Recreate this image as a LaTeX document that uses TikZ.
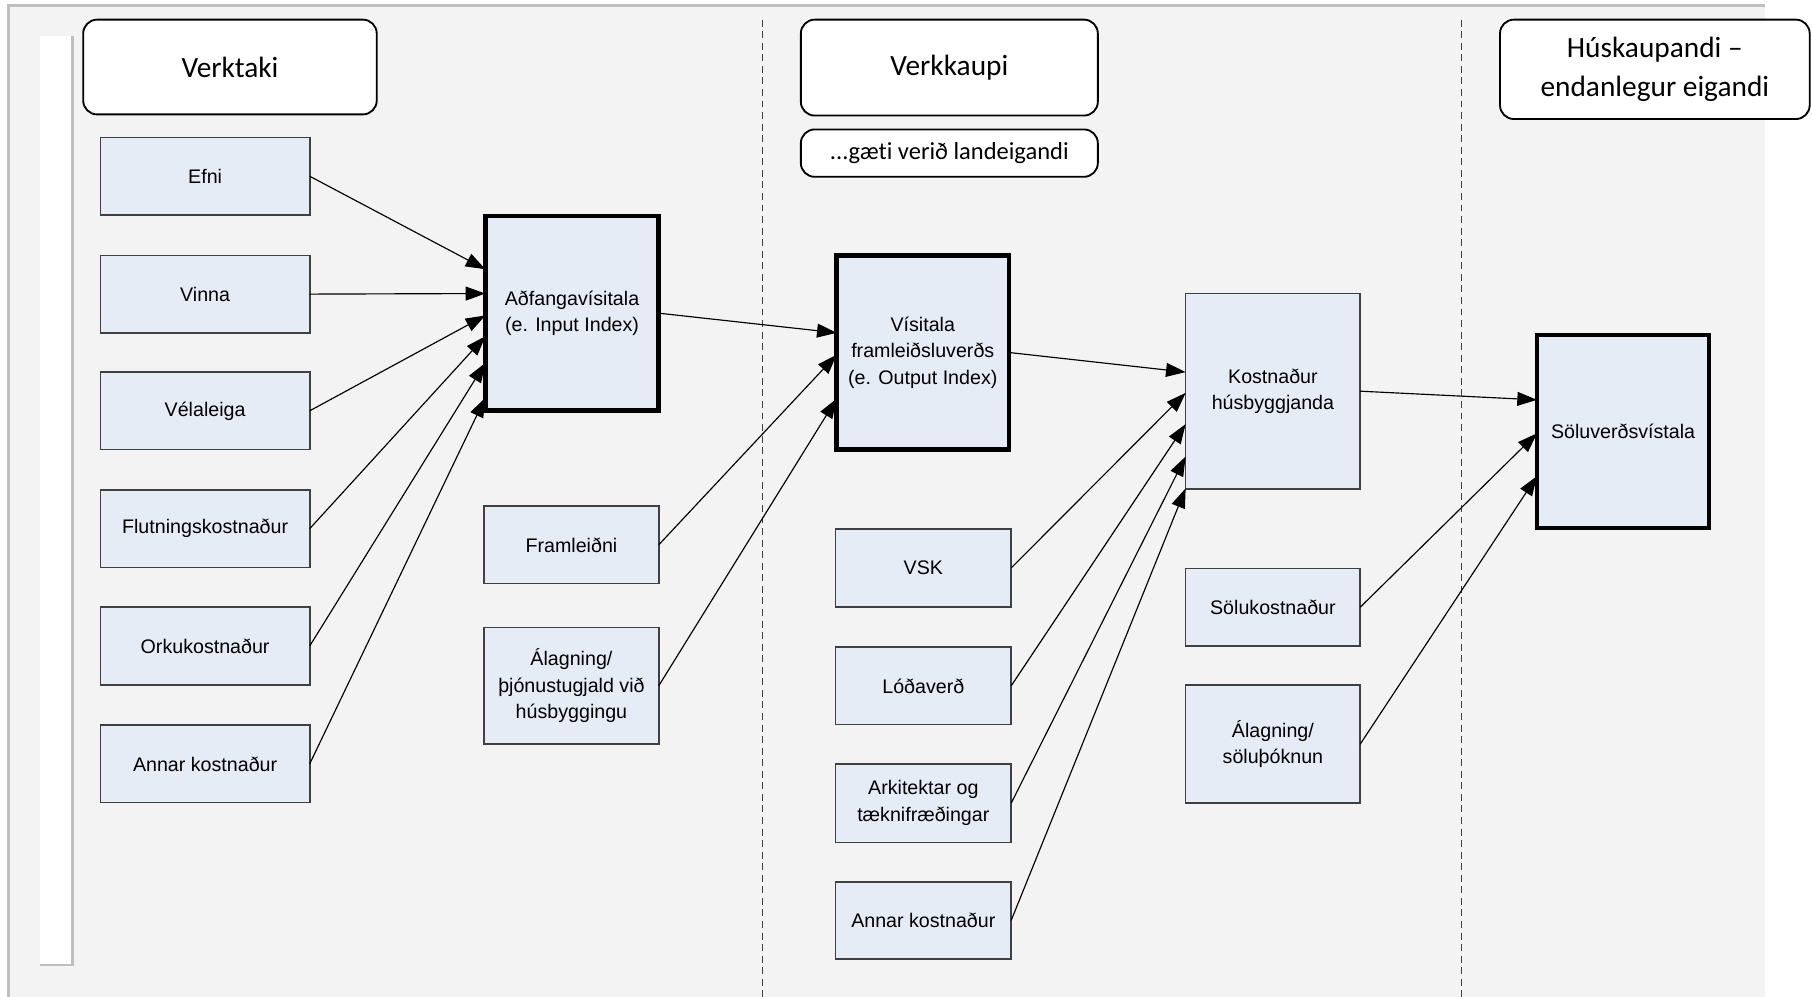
\documentclass[tikz,border=0pt]{standalone}
\usepackage{fontspec}
\setmainfont{Liberation Sans}
\newfontfamily\hdrfont[Ligatures={NoCommon,NoContextual}]{Carlito}
\usetikzlibrary{arrows.meta}
\definecolor{bgcol}{HTML}{F3F3F3}
\definecolor{framecol}{HTML}{BFBFBF}
\definecolor{boxfill}{HTML}{E6ECF6}
\definecolor{boxline}{HTML}{404040}
\begin{document}
\begin{tikzpicture}[x=0.5pt,y=-0.5pt,
  bluebox/.style={draw=boxline, line width=0.7pt, fill=boxfill, inner sep=0pt, outer sep=0pt,
    align=center, font=\fontsize{8.5pt}{11.5pt}\selectfont},
  bigbox/.style={bluebox, draw=black, line width=2pt},
  hdrbox/.style={draw=black, line width=0.8pt, fill=white, rounded corners=6pt, inner sep=0pt, outer sep=0pt,
    align=center, font=\hdrfont\fontsize{12.7pt}{17pt}\selectfont},
  conn/.style={line width=0.5pt, -{Triangle[length=8.5pt,width=6pt]}},
  divider/.style={draw=black!75, line width=0.45pt, dash pattern=on 3pt off 2pt}
]
\useasboundingbox (0,0) rectangle (1568,862);
% background
\fill[bgcol] (7,5) rectangle (1527,875);
\draw[framecol, line width=1.3pt] (7,875) -- (7,5) -- (1527,5);
\fill[white] (35,31) rectangle (63,835);
\draw[framecol, line width=1.2pt] (35,835) -- (63,835) -- (63,31);
% dividers
\draw[divider] (660,17) -- (660,875);
\draw[divider] (1265,17) -- (1265,875);
% headers
\node[hdrbox, minimum width=127pt, minimum height=41pt] (verktaki) at (199,58) {Verktaki};
\node[hdrbox, minimum width=128.5pt, minimum height=41.5pt] (verkkaupi) at (821.5,58.5) {Verkkaupi};
\node[hdrbox, minimum width=128.5pt, minimum height=20.5pt, font=\hdrfont\fontsize{10.6pt}{13pt}\selectfont] (landeig) at (821.5,132.5) {...gæti verið landeigandi};
\node[hdrbox, minimum width=134pt, minimum height=43pt] (huskaup) at (1432,60) {\raisebox{-2pt}{\parbox{120pt}{\centering Húskaupandi –\\endanlegur eigandi}}};
% column 1
\node[bluebox, minimum width=90.5pt, minimum height=33.5pt] (efni) at (177.5,152.5) {Efni};
\node[bluebox, minimum width=90.5pt, minimum height=33.5pt] (vinna) at (177.5,254.5) {Vinna};
\node[bluebox, minimum width=90.5pt, minimum height=33.5pt] (velal) at (177.5,355.5) {Vélaleiga};
\node[bluebox, minimum width=90.5pt, minimum height=33.5pt] (flutn) at (177.5,457.5) {Flutningskostnaður};
\node[bluebox, minimum width=90.5pt, minimum height=33.5pt] (orku) at (177.5,559) {Orkukostnaður};
\node[bluebox, minimum width=90.5pt, minimum height=33.5pt] (annar1) at (177.5,661) {Annar kostnaður};
% column 2
\node[bigbox, minimum width=75pt, minimum height=84pt] (adf) at (495,271) {Aðfangavísitala\\(e. Input Index)};
\node[bluebox, minimum width=75.5pt, minimum height=33.5pt] (framl) at (494.5,471.5) {Framleiðni};
\node[bluebox, minimum width=75.5pt, minimum height=50.5pt] (alag1) at (494.5,593.5) {Álagning/\\þjónustugjald við\\húsbyggingu};
% column 3
\node[bigbox, minimum width=74.5pt, minimum height=84pt] (vis) at (798.5,305) {Vísitala\\framleiðsluverðs\\(e. Output Index)};
\node[bluebox, minimum width=76pt, minimum height=33.5pt] (vsk) at (799,491.5) {VSK};
\node[bluebox, minimum width=76pt, minimum height=33.5pt] (lod) at (799,593.5) {Lóðaverð};
\node[bluebox, minimum width=76pt, minimum height=34pt] (ark) at (799,695) {Arkitektar og\\tæknifræðingar};
\node[bluebox, minimum width=76pt, minimum height=33.5pt] (annar2) at (799,796.5) {Annar kostnaður};
% column 4
\node[bluebox, minimum width=75.5pt, minimum height=84.5pt] (kostn) at (1101.5,338.5) {Kostnaður\\húsbyggjanda};
\node[bluebox, minimum width=75.5pt, minimum height=33.5pt] (solukostn) at (1101.5,525.5) {Sölukostnaður};
\node[bluebox, minimum width=75.5pt, minimum height=51pt] (alag2) at (1101.5,644) {Álagning/\\söluþóknun};
% column 5
\node[bigbox, minimum width=74.5pt, minimum height=83.5pt] (solu) at (1404.5,373.5) {Söluverðsvístala};
% connectors
\draw[conn] (efni.east) -- ([yshift=19pt]adf.west);
\draw[conn] (vinna.east) -- ([yshift=8.5pt]adf.west);
\draw[conn] (velal.east) -- ([yshift=-1pt]adf.west);
\draw[conn] (flutn.east) -- ([yshift=-10pt]adf.west);
\draw[conn] (orku.east) -- ([yshift=-21.5pt]adf.west);
\draw[conn] (annar1.east) -- ([yshift=-36.5pt]adf.west);
\draw[conn] (adf.east) -- ([yshift=8.5pt]vis.west);
\draw[conn] (framl.east) -- ([yshift=-1pt]vis.west);
\draw[conn] (alag1.east) -- ([yshift=-20pt]vis.west);
\draw[conn] (vis.east) -- ([yshift=8.25pt]kostn.west);
\draw[conn] (vsk.east) -- ([yshift=-0.75pt]kostn.west);
\draw[conn] (lod.east) -- ([yshift=-14.25pt]kostn.west);
\draw[conn] (ark.east) -- ([yshift=-28.25pt]kostn.west);
\draw[conn] (annar2.east) -- ([yshift=-42pt]kostn.west);
\draw[conn] (kostn.east) -- ([yshift=13.75pt]solu.west);
\draw[conn] (solukostn.east) -- ([yshift=-0.75pt]solu.west);
\draw[conn] (alag2.east) -- ([yshift=-19.25pt]solu.west);
\end{tikzpicture}
\end{document}
